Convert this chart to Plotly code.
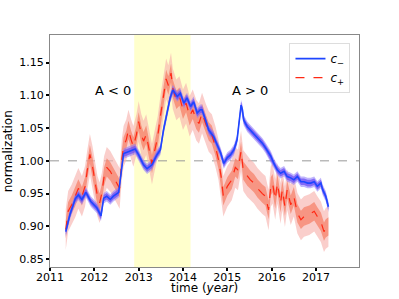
import plotly.graph_objects as go

# ---- data ----
blue_t = [2011.355, 2011.45, 2011.57, 2011.64, 2011.72, 2011.81, 2011.92, 2012.06, 2012.15,
          2012.21, 2012.28, 2012.36, 2012.43, 2012.55, 2012.61, 2012.66, 2012.81, 2012.92,
          2013.00, 2013.11, 2013.19, 2013.30, 2013.41, 2013.49, 2013.56, 2013.64, 2013.71,
          2013.77, 2013.87, 2013.94, 2014.02, 2014.09, 2014.17, 2014.24, 2014.32, 2014.39,
          2014.43, 2014.51, 2014.58, 2014.69, 2014.77, 2014.85, 2014.92, 2015.00, 2015.07,
          2015.15, 2015.22, 2015.26, 2015.31, 2015.34, 2015.37, 2015.45, 2015.52, 2015.60,
          2015.68, 2015.79, 2015.86, 2015.93, 2015.98, 2016.05, 2016.13, 2016.20, 2016.28,
          2016.35, 2016.43, 2016.50, 2016.58, 2016.66, 2016.73, 2016.81, 2016.88, 2016.96,
          2017.03, 2017.11, 2017.15, 2017.22, 2017.28]
blue_v = [0.892, 0.918, 0.942, 0.948, 0.941, 0.952, 0.938, 0.928, 0.916,
          0.943, 0.946, 0.941, 0.946, 0.952, 0.985, 1.011, 1.015, 1.018,
          1.009, 0.994, 0.988, 0.994, 1.009, 1.017, 1.047, 1.073, 1.096,
          1.108, 1.098, 1.103, 1.088, 1.096, 1.083, 1.090, 1.073, 1.078,
          1.078, 1.062, 1.047, 1.037, 1.024, 1.012, 0.996, 1.005, 1.009,
          1.017, 1.032, 1.057, 1.085, 1.078, 1.062, 1.052, 1.047, 1.042,
          1.035, 1.027, 1.020, 1.012, 1.007, 0.996, 0.986, 0.981, 0.984,
          0.976, 0.974, 0.971, 0.976, 0.968, 0.968, 0.966, 0.966, 0.968,
          0.961, 0.966, 0.956, 0.946, 0.930]

red_t = [2011.355, 2011.41, 2011.49, 2011.57, 2011.64, 2011.72, 2011.79, 2011.84, 2011.90,
         2011.96, 2012.02, 2012.07, 2012.12, 2012.17, 2012.22, 2012.28, 2012.36, 2012.43,
         2012.51, 2012.57, 2012.62, 2012.66, 2012.72, 2012.77, 2012.83, 2012.88, 2012.95,
         2013.00, 2013.06, 2013.11, 2013.17, 2013.23, 2013.30, 2013.36, 2013.43, 2013.49,
         2013.56, 2013.62, 2013.67, 2013.73, 2013.77, 2013.85, 2013.92, 2014.00, 2014.07,
         2014.15, 2014.22, 2014.30, 2014.36, 2014.43, 2014.51, 2014.58, 2014.65, 2014.73,
         2014.80, 2014.86, 2014.91, 2015.00, 2015.10, 2015.18, 2015.24, 2015.31, 2015.36,
         2015.45, 2015.52, 2015.60, 2015.68, 2015.79, 2015.86, 2015.93, 2015.98, 2016.02,
         2016.08, 2016.13, 2016.20, 2016.24, 2016.30, 2016.35, 2016.43, 2016.50, 2016.58,
         2016.66, 2016.73, 2016.85, 2016.96, 2017.03, 2017.11, 2017.18, 2017.22, 2017.28]
red_v = [0.895, 0.923, 0.933, 0.945, 0.958, 0.946, 0.961, 0.985, 1.010,
         0.991, 0.966, 0.946, 0.936, 0.951, 0.976, 0.990, 0.984, 0.976,
         0.966, 0.958, 1.002, 1.022, 1.032, 1.047, 1.032, 1.022, 1.040,
         1.060, 1.040, 1.030, 1.040, 1.020, 0.995, 1.015, 1.037, 1.068,
         1.098, 1.125, 1.115, 1.134, 1.110, 1.093, 1.098, 1.078, 1.088,
         1.068, 1.078, 1.062, 1.057, 1.073, 1.057, 1.045, 1.040, 1.022,
         1.002, 0.976, 0.946, 0.961, 0.971, 0.990, 0.986, 1.015, 0.985,
         0.976, 0.971, 0.966, 0.958, 0.950, 0.946, 0.925, 0.961, 0.966,
         0.941, 0.966, 0.935, 0.956, 0.930, 0.956, 0.933, 0.946, 0.920,
         0.910, 0.915, 0.918, 0.923, 0.915, 0.907, 0.892, 0.897, 0.900]

blue_err_in = 0.005
blue_err_out = 0.008
red_err_in = 0.014
red_err_out = 0.031

x_ticks = [2011, 2012, 2013, 2014, 2015, 2016, 2017]
y_ticks = [0.85, 0.90, 0.95, 1.00, 1.05, 1.10, 1.15]
shade_span = [2012.90, 2014.17]

FONT = "DejaVu Sans"


def band(t, v, e, color):
    up = [a + e for a in v]
    lo = [a - e for a in v]
    return go.Scatter(x=list(t) + list(t)[::-1], y=up + lo[::-1], fill="toself",
                      fillcolor=color, line=dict(width=0), mode="lines",
                      hoverinfo="skip", showlegend=False)


fig = go.Figure()
fig.add_vrect(x0=shade_span[0], x1=shade_span[1], fillcolor="#ffffcc", opacity=1,
              line_width=0, layer="below")
fig.add_hline(y=1.0, line=dict(color="#999999", width=1, dash="dash"), layer="below")

fig.add_trace(band(red_t, red_v, red_err_out, "rgba(248,180,175,0.65)"))
fig.add_trace(band(red_t, red_v, red_err_in, "rgba(245,125,100,0.7)"))
fig.add_trace(band(blue_t, blue_v, blue_err_out, "rgba(140,120,250,0.55)"))
fig.add_trace(band(blue_t, blue_v, blue_err_in, "rgba(110,80,245,0.75)"))

fig.add_trace(go.Scatter(x=red_t, y=red_v, mode="lines", name="<i>c</i><sub>+</sub>",
                         line=dict(color="rgb(255,40,20)", width=1.2, dash="dash")))
fig.add_trace(go.Scatter(x=blue_t, y=blue_v, mode="lines", name="<i>c</i><sub>−</sub>",
                         line=dict(color="rgb(30,70,255)", width=1.6)))

fig.add_annotation(x=2012.43, y=1.107, text="A < 0", showarrow=False,
                   font=dict(size=13, color="black", family=FONT))
fig.add_annotation(x=2015.52, y=1.107, text="A > 0", showarrow=False,
                   font=dict(size=13, color="black", family=FONT))

# axis titles as annotations for exact placement
fig.add_annotation(xref="paper", yref="paper", x=0.5, y=-0.092, xanchor="center",
                   yanchor="middle", text="time (<i>year</i>)", showarrow=False,
                   font=dict(size=12, color="black", family=FONT))
fig.add_annotation(xref="paper", yref="paper", x=-0.135, y=0.5, xanchor="center",
                   yanchor="middle", text="normalization", textangle=-90, showarrow=False,
                   font=dict(size=12, color="black", family=FONT))

axis_common = dict(showgrid=False, zeroline=False, showline=True, linecolor="#888888",
                   linewidth=1, mirror=True, ticks="outside", ticklen=3, tickwidth=2,
                   tickcolor="black", automargin=False,
                   tickfont=dict(size=11, color="black", family=FONT))

fig.update_xaxes(range=[2011, 2017.97], tickvals=x_ticks, ticktext=[str(v) for v in x_ticks],
                 ticklabelstandoff=-3, **axis_common)
fig.update_yaxes(range=[0.838, 1.192], tickvals=y_ticks, ticktext=[f"{v:.2f}" for v in y_ticks],
                 **axis_common)

fig.update_layout(
    width=399, height=299,
    margin=dict(l=50, r=40, t=35, b=32),
    paper_bgcolor="white", plot_bgcolor="white",
    font=dict(family=FONT, color="black"),
    legend=dict(x=0.775, y=0.965, xanchor="left", yanchor="top",
                bgcolor="rgba(255,255,255,0.9)", bordercolor="#dddddd", borderwidth=1,
                font=dict(size=12, family=FONT), traceorder="reversed",
                itemwidth=30, tracegroupgap=0),
)

fig.write_html("out.html", config={"displayModeBar": False},
               post_script="document.body.style.margin='0';")
